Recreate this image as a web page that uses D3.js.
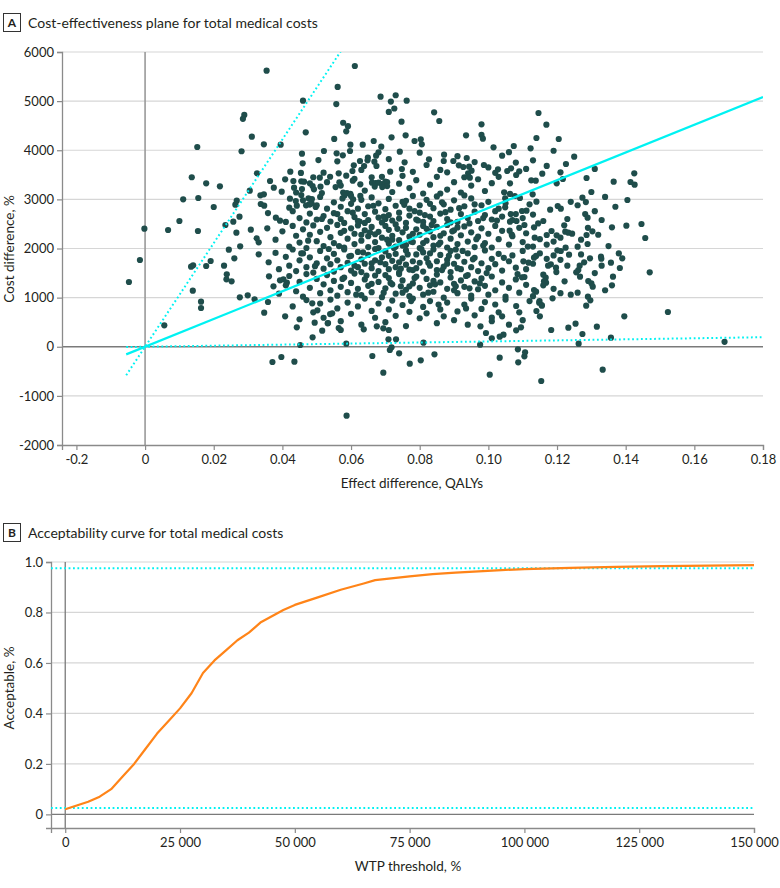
<!DOCTYPE html>
<html><head><meta charset="utf-8">
<script src="https://cdn.jsdelivr.net/npm/d3@7"></script>
<style>
body{margin:0;background:#fff}
svg{display:block}
text{font-family:Lato,"Noto Sans",sans-serif;fill:#231f20}
</style>
</head><body><svg id="c" width="780" height="888"></svg>
<script>
// ---------- Panel A data ----------
const panelATitle = "Cost-effectiveness plane for total medical costs";
const panelBTitle = "Acceptability curve for total medical costs";
const xTicksA = [-0.02,0,0.02,0.04,0.06,0.08,0.10,0.12,0.14,0.16,0.18];
const xTickLabelsA = ["-0.2","0","0.02","0.04","0.06","0.08","0.10","0.12","0.14","0.16","0.18"];
const yTicksA = [-2000,-1000,0,1000,2000,3000,4000,5000,6000];
// bootstrap replicates: [effect difference (QALYs), cost difference]
const points = [
[.0354,5620],[.0611,5715],[.0561,5290],[.0557,4940],[.046,5010],[.0686,5090],[.073,5120],[.0716,4990],[.0726,4850],[.071,4780],[.0289,4720],[.0285,4640],[.0468,4365],[.0577,4560],[.0591,4490],[.0586,4385],[.0311,4276],[.0346,4120],[.0395,4113],[.0152,4066],[.0281,3980],[.0551,4230],[.0598,4113],[.0634,4113],[.0666,4188],[.0718,4264],[.0457,3930],[.0521,3985],[.0558,3937],[.0576,3896],[.0597,3985],[.056,3775],[.0505,3801],[.0459,3734],[.0136,3450],[.0178,3327],[.0218,3266],[.0111,3002],[.0155,3028],[.02,2845],[.0326,3531],[.0305,3177],[.0267,2973],[.0263,2892],[.01,2560],[-.0002,2403],[.0067,2377],[.0154,2356],[.0275,2648],[.0234,2478],[.0257,2546],[.0266,2322],[.0308,2383],[.0325,2207],[.0356,2411],[.0381,2628],[.0393,2566],[.0364,3374],[.0375,3238],[.0398,3157],[.0408,3409],[.0423,3564],[.0336,3082],[.0346,3103],[.0337,2906],[.0347,2871],[.0358,2722],[.0422,3014],[.042,2831],[.0432,3374],[.0434,3238],[.0454,3539],[.0455,3368],[.0463,3360],[.0457,3211],[.0455,3089],[.0439,2967],[.0442,2871],[.048,3327],[.0488,3272],[.0511,3258],[.0515,3130],[.0492,3204],[.0476,3021],[.0486,3007],[.0485,2920],[.0469,2879],[.0479,2899],[.0497,2845],[.0509,3442],[.052,3543],[.0539,3461],[.0564,3531],[.0566,3347],[.0586,3482],[.0604,3578],[.0605,3381],[.0627,3307],[.0608,3693],[.0626,3781],[.0638,3679],[.0649,3850],[.0648,3795],[.0668,3767],[.0673,3890],[.068,3958],[.0674,3679],[.0688,4073],[.0714,3564],
[.0661,3340],[.0671,3330],[.068,3340],[.069,3310],[.070,3360],[.0705,3350],[.0705,3270],[.0691,3250],[.0669,3260],[.0555,3250],[.0577,3140],[.0588,3130],[.0598,3110],[.0581,3080],[.0575,3020],[.0606,3000],[.0627,3070],
[.0762,5009],[.0842,4772],[.0857,4595],[.0747,4581],[.0759,4304],[.0785,4188],[.0803,4222],[.0806,4121],[.0742,3971],[.0756,3754],[.0748,3618],[.0827,3815],[.0871,3910],[.087,3781],[.0898,3781],[.0914,3693],[.0927,3659],[.0935,4304],[.0937,3842],[.0944,3665],[.0951,3584],[.0941,3531],[.0946,3442],[.093,3450],[.098,4528],[.098,4311],[.0984,4236],[.0987,3700],[.1015,4060],[.1028,3611],[.1055,3578],[.1066,3632],[.109,3571],[.1081,3496],[.1074,4087],[.1146,4758],[.1169,4521],[.114,4249],[.1123,4040],[.113,3795],[.1205,4229],[.1226,3720],[.1157,3524],[.1125,3388],[.1138,3381],[.1199,3327],[.1217,3415],[.1286,3435],[.1365,3360],[.1414,3354],[.1426,3299],[.1425,3531],[.1405,2987],[.1274,3035],[.1284,2946],[.1282,2702],[.1289,2628],[.136,2431],[.1402,2464],[.1446,2499],[.1457,2214],[.1303,2350],[.1286,2275],[.1221,2472],[.1224,2343],[.1233,2322],[.1244,2302],[.1184,2356],[.117,2275],[.1199,2268],[.1202,2865],[.1211,2811],[.1133,2431],[.1135,2220],[.1111,2770],[.1098,2763],[.112,2899],[.114,2953],[.1129,3103],[.1092,3028],[.1077,3069],[.1063,3110],[.1063,3327],[.1049,3021],[.1049,2838],[.1046,3144],[.1105,2478],[.1082,2560],[.1063,2546],[.1062,2363],[.1068,2282],
[-.0047,1318],[-.0015,1766],[.0056,436],[.0139,1141],[.0163,917],[.0163,789],[.0134,1630],[.014,1658],[.0178,1644],[.0191,1746],[.023,1650],[.0238,1474],[.0237,1373],[.0252,1332],[.026,1800],[.0244,1977],[.0277,2044],[.0331,2126],[.0331,1882],[.0276,1007],[.0299,1047],[.0319,966],[.0347,693],[.0358,911],[.0374,1230],[.0393,1353],[.0403,1373],[.0413,1304],[.0361,1434],[.0408,620],[.0371,-310],[.0397,-209],[.0435,-303],[.0452,36],[.0442,396],[.0488,192],[.0494,490],[.0516,327],[.0533,483],[.0564,382],[.057,341],[.0586,62],[.0587,-1403],[.0637,355],[.0662,-188],[.0694,-528],[.0675,416],[.0694,375],[.071,341],[.0709,151],[.0731,151],[.0718,-11],[.0713,-66],[.074,-134],[.0487,884],[.0502,741],[.0539,666],[.0545,680],[.0532,476],
[.0811,82],[.0771,-345],[.0803,-277],[.0843,-155],[.0976,42],[.1004,-568],[.1033,-222],[.1086,-53],[.1105,-195],[.1107,-113],[.1087,-317],[.1154,-697],[.1263,62],[.1333,-467],[.1357,185],[.1396,620],[.147,1515],[.1523,707],[.1688,100],[.101,171],[.1033,205],[.1044,246],[.0993,280],[.101,592],[.103,701],[.0977,416],[.1081,334],[.1095,396],[.1183,341],[.1233,389],[.1254,470],[.1274,260],[.1316,409],[.1081,830],[.114,728],[.1148,897],[.1156,836],[.1187,986],[.1285,836],[.1297,945],[.1291,1338],[.13,1291],[.1304,1223],[.1363,1427],[.1383,1603],[.1357,1712],[.1328,1834],[.1329,1793],[.1296,1800],[.1279,1718],[.1266,1650],[.1262,1562],[.1256,1515],[.1267,1427],[.1222,1332],[.126,2037],[.1289,2092],[.1225,2016],[.1235,1875],[.1201,1963],[.1211,1949],[.1174,1650],[.1197,1610],[.1198,1521],[.1182,1678],[.1167,1406],[.1162,1332],[.1168,1304],[.116,1467],[.1133,1155],[.1139,1121],[.1149,931],[.1155,850],[.1117,1712],[.1133,1813],[.1139,1848],[.1102,1739],[.1098,1413],[.1105,1420],
[.061,3420],[.064,3180],[.066,3450],[.072,3150],[.075,3480],[.077,3230],[.079,3390],[.081,3120],[.083,3300],[.085,3460],[.088,3200],[.090,3350],[.092,3140],[.095,3280],[.097,3410],[.099,3170],[.101,3330],[.103,3460],[.057,3280],[.053,3350],[.049,3450],[.044,3140],[.086,3120],[.074,3320],[.069,3460],
[.078,3560],[.082,3700],[.086,3600],[.091,3880],[.096,3760],[.100,3650],[.104,3890],[.108,3750],[.111,3620],[.117,3680],[.121,3550],[.063,3600],[.071,3820],[.080,3950],[.088,3550],[.102,3540],[.125,3870],[.131,3620],[.119,3990],[.106,3960],
[.041,2540],[.043,2760],[.045,2620],[.046,2980],[.047,2530],[.048,2710],[.050,2590],[.050,2880],[.051,3050],[.052,2660],[.053,2810],[.054,2550],[.055,2940],[.056,2700],[.057,2600],[.057,2850],[.058,2520],[.059,2760],[.060,2910],[.061,2640],[.062,2810],[.062,2560],[.063,2990],[.064,2700],[.065,2860],[.065,2580],[.066,3040],[.067,2750],[.068,2630],[.068,2920],[.069,2530],[.070,2800],[.071,2680],[.071,3010],[.072,2570],[.073,2870],[.074,2730],[.074,2610],[.075,2950],[.076,2520],[.077,2810],[.077,2670],[.078,3070],[.079,2590],[.080,2880],[.080,2730],[.081,2540],[.082,2990],[.083,2650],[.084,2820],[.084,2560],[.085,3060],[.086,2710],[.087,2900],[.088,2600],[.089,2790],[.090,2980],[.091,2540],[.092,2700],[.093,2860],[.094,2620],[.095,3020],[.096,2750],[.097,2560],[.098,2880],[.099,2680],[.100,2950],[.101,2590],[.102,2760],[.104,2650],[.105,2920],[.107,2580],[.108,2700],[.110,2620],[.113,2690],[.116,2560],[.118,2790],[.060,3070],[.064,2520],[.070,2600],[.076,2970],[.083,2910],[.089,2530],[.093,3080],[.096,2900],[.103,2810],[.055,2720],[.048,2900],
[.038,2180],[.040,2350],[.042,2040],[.043,2460],[.044,2260],[.045,2120],[.046,2390],[.047,2010],[.048,2280],[.049,2470],[.050,2150],[.051,2340],[.052,2050],[.053,2420],[.054,2230],[.055,2110],[.056,2480],[.057,2320],[.058,2020],[.059,2200],[.060,2410],[.061,2090],[.061,2300],[.062,2470],[.063,2160],[.064,2370],[.065,2030],[.065,2250],[.066,2440],[.067,2130],[.068,2340],[.068,2010],[.069,2220],[.070,2460],[.071,2100],[.071,2380],[.072,2260],[.073,2040],[.073,2490],[.074,2170],[.075,2330],[.076,2070],[.076,2420],[.077,2240],[.078,2130],[.079,2390],[.080,2010],[.080,2280],[.081,2460],[.082,2160],[.083,2350],[.084,2060],[.084,2230],[.085,2440],[.086,2120],[.087,2310],[.088,2020],[.088,2480],[.089,2200],[.090,2370],[.091,2090],[.092,2270],[.093,2450],[.094,2140],[.095,2330],[.096,2030],[.097,2240],[.098,2410],[.099,2110],[.100,2300],[.101,2020],[.102,2460],[.103,2190],[.104,2360],[.106,2080],[.107,2250],[.109,2420],[.110,2130],[.111,2310],[.113,2040],[.115,2190],[.117,2080],[.119,2140],[.121,2220],[.067,2290],[.072,2180],[.078,2300],[.082,2400],[.086,2260],[.091,2430],[.058,2360],[.063,2280],[.075,2060],[.081,2110],
[.036,1720],[.038,1910],[.039,1580],[.041,1830],[.042,1650],[.043,1980],[.044,1540],[.045,1760],[.046,1900],[.047,1620],[.048,1820],[.049,1510],[.050,1700],[.051,1950],[.052,1590],[.053,1800],[.054,1680],[.055,1530],[.055,1890],[.056,1760],[.057,1620],[.058,1980],[.059,1710],[.060,1550],[.060,1850],[.061,1650],[.062,1930],[.063,1780],[.063,1520],[.064,1690],[.065,1870],[.066,1600],[.067,1760],[.067,1990],[.068,1540],[.069,1820],[.070,1680],[.070,1940],[.071,1580],[.072,1750],[.073,1890],[.073,1620],[.074,1510],[.075,1800],[.076,1670],[.076,1960],[.077,1570],[.078,1740],[.079,1880],[.079,1600],[.080,1710],[.081,1530],[.081,1920],[.082,1800],[.083,1650],[.084,1980],[.085,1560],[.085,1740],[.086,1870],[.087,1630],[.088,1770],[.089,1520],[.089,1950],[.090,1690],[.091,1840],[.092,1580],[.093,1730],[.094,1900],[.095,1620],[.096,1810],[.097,1540],[.098,1700],[.099,1960],[.100,1600],[.101,1790],[.102,1680],[.103,1890],[.104,1550],[.106,1740],[.107,1860],[.108,1610],[.110,1950],[.111,1580],[.113,1690],[.115,1900],[.117,1790],[.119,1860],[.121,1770],[.123,1650],[.066,1700],[.071,1850],[.078,1560],[.083,1900],[.088,1690],[.074,1720],[.062,1620],[.091,1600],
[.039,1080],[.041,1250],[.042,1440],[.044,1130],[.045,1320],[.046,1020],[.047,1480],[.048,1200],[.050,1380],[.051,1090],[.052,1270],[.053,1460],[.054,1150],[.055,1340],[.056,1040],[.057,1220],[.058,1410],[.059,1110],[.060,1300],[.061,1490],[.062,1180],[.063,1050],[.064,1370],[.065,1240],[.066,1110],[.067,1450],[.068,1320],[.069,1010],[.070,1190],[.071,1400],[.072,1270],[.073,1080],[.074,1480],[.075,1350],[.076,1160],[.077,1030],[.078,1290],[.079,1430],[.080,1200],[.081,1060],[.082,1380],[.083,1250],[.084,1120],[.085,1470],[.086,1310],[.087,1000],[.088,1180],[.089,1410],[.090,1280],[.091,1090],[.092,1350],[.093,1220],[.094,1460],[.095,1040],[.096,1330],[.097,1170],[.098,1390],[.099,1240],[.100,1060],[.101,1430],[.102,1150],[.104,1310],[.105,1020],[.106,1200],[.108,1370],[.109,1100],[.111,1260],[.113,1030],[.116,1250],[.119,1180],[.121,1090],[.070,1460],[.077,1230],[.084,1340],[.066,1280],[.090,1150],[.075,1100],
[.043,820],[.045,560],[.047,950],[.049,700],[.051,880],[.052,590],[.054,960],[.056,780],[.057,520],[.059,900],[.060,670],[.062,820],[.063,450],[.064,980],[.066,730],[.067,590],[.068,880],[.070,500],[.071,760],[.072,940],[.073,630],[.075,850],[.076,420],[.077,710],[.078,980],[.080,580],[.081,810],[.082,680],[.083,930],[.085,480],[.086,760],[.087,620],[.088,900],[.090,540],[.091,720],[.093,860],[.094,450],[.095,980],[.096,640],[.098,770],[.099,910],[.101,520],[.102,860],[.104,620],[.105,960],[.106,450],[.109,700],[.110,540],[.112,930],[.115,620],
[.123,2600],[.126,2880],[.129,2420],[.131,2760],[.133,2580],[.127,2180],[.132,2280],[.135,2050],[.124,2950],[.137,2850],[.130,3150],[.134,3050],
[.126,1100],[.129,1020],[.131,1500],[.133,1650],[.136,1250],[.138,1900],[.134,1150],[.127,1880],[.124,1060],[.139,1800],
[.0565,2050],[.0595,1840],[.0625,2550],[.0645,1450],[.0655,2330],[.0685,1720],[.0695,2650],[.0715,1300],[.0725,2010],[.0735,2400],[.0745,1590],[.0755,2890],[.0765,1880],[.0775,2140],[.0785,1400],[.0795,2570],[.0805,1990],[.0815,2680],[.0825,1710],[.0835,2480],[.0845,1270],[.0855,2080],[.0865,1560],[.0875,2740],[.0885,1850],[.0895,2350],[.0905,1230],[.0915,2820],[.0925,1950],[.0935,1440],[.0945,2510],[.0955,1780],[.0965,2190],[.0975,1290],[.0985,2620],[.0995,1500],[.0575,1380],[.0605,2730],[.0635,1920],[.0665,2870],[.0705,2180],[.0745,1230],[.0785,2760],[.0825,1100],[.0865,2940],[.0905,1980],[.0945,1190],[.0985,2060],[.0615,1060],[.0695,1100],[.0775,930],[.0855,860],[.0935,780],[.0535,1990],[.0515,2600],[.0495,1640],[.0475,2160],[.0455,1900],[.1025,2570],[.1045,1810],[.1065,2700],[.1085,1480],[.1115,2040],[.1145,2510]
];
// ICER line and confidence-bound lines (cost per QALY slopes)
const icerSlope = 28250;
const ciLowSlope = 1080;
const ciHighSlope = 105500;
const lineStartEffect = -0.0055;

// ---------- Panel B data ----------
const wtp = [0,2500,5000,7500,10000,12500,15000,17500,20000,22500,25000,27500,30000,32500,35000,37500,40000,42500,45000,47500,50000,55000,60000,65000,67500,70000,75000,80000,85000,90000,95000,100000,110000,120000,130000,140000,150000];
const acceptability = [0.02,0.035,0.05,0.07,0.10,0.15,0.20,0.26,0.32,0.37,0.42,0.48,0.56,0.61,0.65,0.69,0.72,0.76,0.785,0.81,0.83,0.86,0.89,0.915,0.928,0.933,0.943,0.952,0.958,0.963,0.968,0.972,0.977,0.981,0.984,0.986,0.988];
const ciLevels = [0.025,0.975];
const xTicksB = [0,25000,50000,75000,100000,125000,150000];
const xTickLabelsB = ["0","25\u2005000","50\u2005000","75\u2005000","100\u2005000","125\u2005000","150\u2005000"];
const yTicksB = [0,0.2,0.4,0.6,0.8,1.0];
const yTickLabelsB = ["0","0.2","0.4","0.6","0.8","1.0"];

// ---------- styles ----------
const dotColor = "#1f4d4b", cyan = "#00f2f2", orange = "#ff8418";
const gridColor = "#d6d6d6", axisColor = "#8a8a8a", zeroColor = "#7a7a7a";

const svg = d3.select("#c");

function panelLabel(y, letter, title){
  svg.append("rect").attr("x",3.5).attr("y",y+0.5).attr("width",17).attr("height",18)
    .attr("fill","none").attr("stroke","#333").attr("stroke-width",1);
  svg.append("text").attr("x",12).attr("y",y+14).attr("text-anchor","middle")
    .attr("font-weight","bold").attr("font-size",12).text(letter);
  svg.append("text").attr("x",28).attr("y",y+15).attr("font-size",14).text(title);
}

// ================= Panel A =================
panelLabel(13,"A",panelATitle);
const xA = d3.scaleLinear().domain([-0.0242,0.18]).range([62,763]);
const yA = d3.scaleLinear().domain([-2000,6000]).range([445,52]);
const gA = svg.append("g");
gA.append("defs").append("clipPath").attr("id","clipA").append("rect")
  .attr("x",62).attr("y",52).attr("width",701).attr("height",393);

gA.selectAll("line.grid").data(yTicksA.filter(d=>d!==0 && d!==-2000)).enter().append("line")
  .attr("x1",62).attr("x2",763).attr("y1",d=>yA(d)).attr("y2",d=>yA(d))
  .attr("stroke",gridColor).attr("stroke-width",1.2);
gA.append("line").attr("x1",62).attr("x2",763).attr("y1",yA(0)).attr("y2",yA(0))
  .attr("stroke",zeroColor).attr("stroke-width",1.3);
gA.append("line").attr("x1",xA(0)).attr("x2",xA(0)).attr("y1",52).attr("y2",445)
  .attr("stroke","#9a9a9a").attr("stroke-width",1.6);

const axA_y = d3.axisLeft(yA).tickValues(yTicksA).tickSize(5).tickPadding(3).tickFormat(d=>String(d));
const gyA = gA.append("g").attr("transform","translate(62,0)").call(axA_y);
const axA_x = d3.axisBottom(xA).tickValues(xTicksA).tickSize(5).tickPadding(5)
  .tickFormat((d,i)=>xTickLabelsA[i]);
const gxA = gA.append("g").attr("transform","translate(0,445)").call(axA_x);
[gyA,gxA].forEach(g=>{
  g.select(".domain").attr("stroke",axisColor).attr("stroke-width",1.3);
  g.selectAll(".tick line").attr("stroke",axisColor).attr("stroke-width",1.2);
  g.selectAll(".tick text").attr("font-family","Lato,'Noto Sans',sans-serif").attr("font-size",13).attr("fill","#231f20");
});
gA.append("text").attr("x",412).attr("y",488).attr("text-anchor","middle").attr("font-size",13.5)
  .text("Effect difference, QALYs");
gA.append("text").attr("transform","translate(14,249) rotate(-90)").attr("text-anchor","middle")
  .attr("font-size",13.5).text("Cost difference, %");

gA.append("g").attr("clip-path","url(#clipA)").selectAll("circle").data(points).enter().append("circle")
  .attr("cx",d=>xA(d[0])).attr("cy",d=>yA(d[1])).attr("r",3.1).attr("fill",dotColor);

const lineGen = d3.line().x(d=>xA(d[0])).y(d=>yA(d[1]));
const linesA = gA.append("g").attr("clip-path","url(#clipA)");
function slopeLine(s){ return [[lineStartEffect, lineStartEffect*s],[0.18, 0.18*s]]; }
linesA.append("path").attr("d",lineGen(slopeLine(ciHighSlope))).attr("fill","none")
  .attr("stroke",cyan).attr("stroke-width",2).attr("stroke-dasharray","1.8,2.6");
linesA.append("path").attr("d",lineGen(slopeLine(ciLowSlope))).attr("fill","none")
  .attr("stroke",cyan).attr("stroke-width",2).attr("stroke-dasharray","1.8,2.6");
linesA.append("path").attr("d",lineGen(slopeLine(icerSlope))).attr("fill","none")
  .attr("stroke",cyan).attr("stroke-width",2.2);

// ================= Panel B =================
panelLabel(523,"B",panelBTitle);
const xB = d3.scaleLinear().domain([-3100,150000]).range([51,754]);
const yB = d3.scaleLinear().domain([-0.054,1.0]).range([828,562]);
const gB = svg.append("g");
gB.selectAll("line.grid").data(yTicksB.filter(d=>d!==0)).enter().append("line")
  .attr("x1",51).attr("x2",754).attr("y1",d=>yB(d)).attr("y2",d=>yB(d))
  .attr("stroke",gridColor).attr("stroke-width",1.2);
gB.append("line").attr("x1",51).attr("x2",754).attr("y1",yB(0)).attr("y2",yB(0))
  .attr("stroke",zeroColor).attr("stroke-width",1.3);
gB.append("line").attr("x1",xB(0)).attr("x2",xB(0)).attr("y1",562).attr("y2",828)
  .attr("stroke",zeroColor).attr("stroke-width",1.3);
const axB_y = d3.axisLeft(yB).tickValues(yTicksB).tickSize(5).tickPadding(3).tickFormat((d,i)=>yTickLabelsB[i]);
const gyB = gB.append("g").attr("transform","translate(51,0)").call(axB_y);
const axB_x = d3.axisBottom(xB).tickValues(xTicksB).tickSize(5).tickPadding(5).tickFormat((d,i)=>xTickLabelsB[i]);
const gxB = gB.append("g").attr("transform","translate(0,828)").call(axB_x);
[gyB,gxB].forEach(g=>{
  g.select(".domain").attr("stroke",axisColor).attr("stroke-width",1.3);
  g.selectAll(".tick line").attr("stroke",axisColor).attr("stroke-width",1.2);
  g.selectAll(".tick text").attr("font-family","Lato,'Noto Sans',sans-serif").attr("font-size",13).attr("fill","#231f20");
});
gB.selectAll("line.ci").data(ciLevels).enter().append("line")
  .attr("x1",51).attr("x2",754).attr("y1",d=>yB(d)).attr("y2",d=>yB(d))
  .attr("stroke",cyan).attr("stroke-width",2).attr("stroke-dasharray","1.8,2.6");
const curve = d3.line().x(d=>xB(d[0])).y(d=>yB(d[1]));
gB.append("path").attr("d",curve(wtp.map((w,i)=>[w,acceptability[i]])))
  .attr("fill","none").attr("stroke",orange).attr("stroke-width",2.2).attr("stroke-linejoin","round");
gB.append("text").attr("x",408).attr("y",871).attr("text-anchor","middle").attr("font-size",13.5)
  .text("WTP threshold, %");
gB.append("text").attr("transform","translate(14,688) rotate(-90)").attr("text-anchor","middle")
  .attr("font-size",13.5).text("Acceptable, %");
</script>
</body></html>
